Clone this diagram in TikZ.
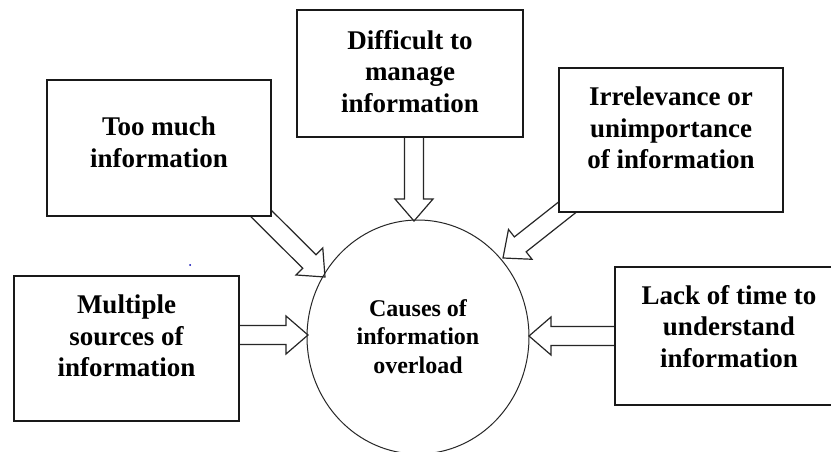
\documentclass[tikz,border=0pt]{standalone}
\usepackage{fontspec}
\setmainfont{Liberation Serif}
\usetikzlibrary{calc,shapes.geometric}

% hollow block arrow from a start coordinate (hidden under a box) to a tip
\newcommand\blockarrow[2]{%
  \path ($(#2)!22pt!(#1)$) coordinate (#2-base);
  \draw[arrowline]
    ($(#1)!9.5pt!90:(#2)$) -- ($(#2-base)!9.5pt!90:(#2)$) --
    ($(#2-base)!19pt!90:(#2)$) -- (#2) --
    ($(#2-base)!19pt!-90:(#2)$) -- ($(#2-base)!9.5pt!-90:(#2)$) --
    ($(#1)!9.5pt!-90:(#2)$) -- cycle;
}

\begin{document}
\begin{tikzpicture}[x=1pt,y=-1pt,
  causebox/.style={draw=black!90,line width=1.6pt,fill=white,inner sep=0pt},
  boxtext/.style={anchor=north,align=center,inner sep=0pt,
    font=\bfseries\fontsize{27}{31.5}\selectfont},
  centertext/.style={anchor=north,align=center,inner sep=0pt,
    font=\bfseries\fontsize{24}{28.5}\selectfont},
  arrowline/.style={draw=black!85,line width=1.2pt,fill=white,line join=miter},
  hub/.style={ellipse,draw=black!85,line width=1pt,inner sep=0pt,
    minimum width=222pt,minimum height=234pt}]

\useasboundingbox (0,0) rectangle (831,452);
\fill[white] (0,0) rectangle (831,452);

% start points of the arrows (inside the boxes) and their tips on the ellipse
\coordinate (s1) at (414,110);
\coordinate (p1) at (414,221);
\coordinate (s2) at (245,197.5);
\coordinate (p2) at (325,277);
\coordinate (s3) at (581.5,196);
\coordinate (p3) at (503,258);
\coordinate (s4) at (200,335);
\coordinate (p4) at (308,335);
\coordinate (s5) at (660,336);
\coordinate (p5) at (529,336);

\blockarrow{s1}{p1}
\blockarrow{s2}{p2}
\blockarrow{s3}{p3}
\blockarrow{s4}{p4}
\blockarrow{s5}{p5}

% the five causes
\node[causebox,minimum width=224pt,minimum height=136pt] (b1) at (159,148) {};
\node[causebox,minimum width=226pt,minimum height=127pt] (b2) at (410,73.5) {};
\node[causebox,minimum width=224pt,minimum height=144pt] (b3) at (671,140) {};
\node[causebox,minimum width=225pt,minimum height=145pt] (b4) at (126.5,348.5) {};
\node[causebox,minimum width=228pt,minimum height=138pt] (b5) at (729,336) {};

\node[boxtext] (t1) at (159,117) {Too much\\information};
\node[boxtext] (t2) at (410,30) {Difficult to\\manage\\information};
\node[boxtext] (t3) at (671,87) {Irrelevance or\\unimportance\\of information};
\node[boxtext] (t4) at (126.5,295) {Multiple\\sources of\\information};
\node[boxtext] (t5) at (729,285) {Lack of time to\\understand\\information};

% central ellipse
\node[hub] (hub) at (418,337) {};
\node[centertext] (tc) at (418,299) {Causes of\\information\\overload};

% small stray mark
\fill[blue!70!black] (190,265) circle (1pt);
\end{tikzpicture}
\end{document}
